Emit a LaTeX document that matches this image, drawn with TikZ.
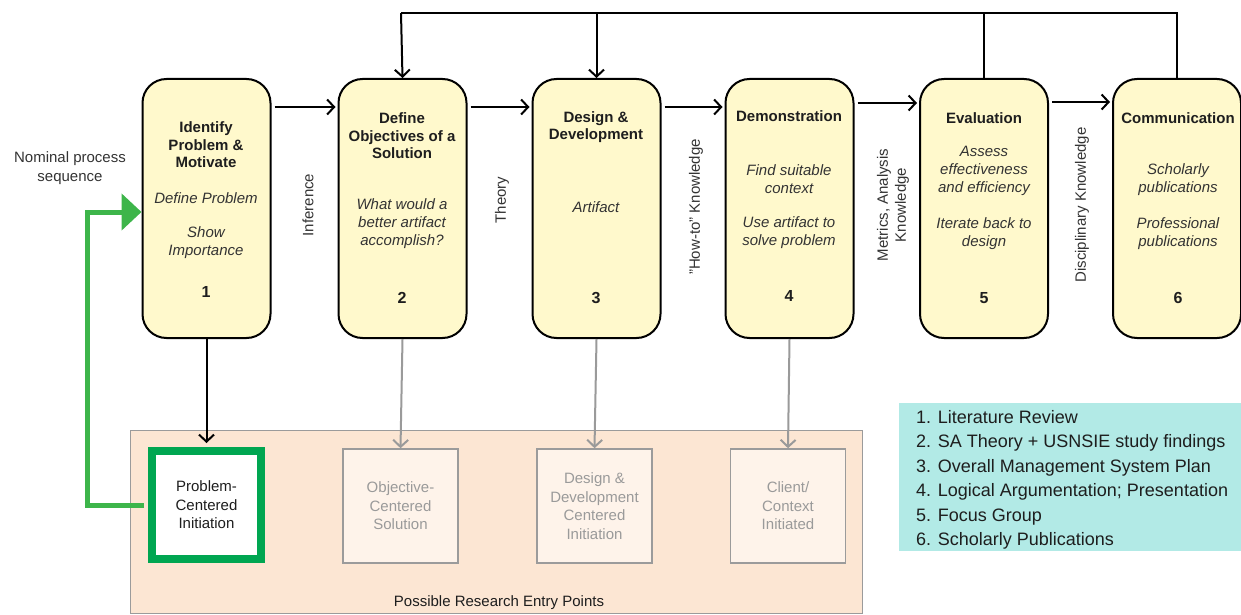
\documentclass[tikz,border=0pt]{standalone}
\usepackage{fontspec}
\setmainfont{Liberation Sans}
\usetikzlibrary{arrows.meta}
\definecolor{boxfill}{HTML}{FFF9CC}
\definecolor{entrybg}{HTML}{FCE6D3}
\definecolor{entryfill}{HTML}{FEF3EA}
\definecolor{entryline}{HTML}{9B9B9B}
\definecolor{legendbg}{HTML}{B2EAE6}
\definecolor{gbox}{HTML}{00A651}
\definecolor{garrow}{HTML}{3DB54A}
\definecolor{txt}{HTML}{1E1E1E}
\definecolor{txttwo}{HTML}{333333}
\definecolor{graytxt}{HTML}{9A9A9A}
\definecolor{grayarr}{HTML}{9A9A9A}
\tikzset{
  stage/.style={draw=black, line width=2pt, fill=boxfill, rounded corners=24pt,
    minimum width=128pt, minimum height=259pt, inner sep=0pt},
  ttl/.style={font=\fontsize{15}{17.5}\selectfont\bfseries, text=txt, align=center, inner sep=0pt},
  itl/.style={font=\fontsize{15}{18}\selectfont\itshape, text=txttwo, align=center, inner sep=0pt},
  num/.style={font=\fontsize{16}{18}\selectfont\bfseries, text=txt, inner sep=0pt},
  rlab/.style={font=\fontsize{15}{18}\selectfont, text=txttwo, rotate=90, align=center, inner sep=0pt},
  flow/.style={draw=black, line width=2pt, -{Straight Barb[length=7pt,width=15pt]}},
  fbline/.style={draw=black, line width=2pt},
  grayflow/.style={draw=grayarr, line width=2pt, -{Straight Barb[length=7pt,width=15pt]}},
  entry/.style={draw=entryline, line width=1.6pt, fill=entryfill, minimum width=115pt,
    minimum height=114pt, inner sep=0pt, text=graytxt, align=center,
    font=\fontsize{15}{18.5}\selectfont},
  greenbox/.style={entry, draw=gbox, line width=8pt, fill=white, text=txt,
    minimum width=109pt, minimum height=108pt},
  greenflow/.style={draw=garrow, line width=5pt, -{Triangle[length=20pt,width=36pt]}},
  legline/.style={anchor=base west, inner sep=0pt, font=\fontsize{18}{24}\selectfont, text=txt},
}
\begin{document}
\begin{tikzpicture}[x=1pt,y=-1pt]
\useasboundingbox (0,0) rectangle (1241,615);

% bottom area
\node[draw=entryline, line width=1pt, fill=entrybg, minimum width=732pt, minimum height=183pt, inner sep=0pt] (area) at (496,521.5) {};
\node[font=\fontsize{15}{18}\selectfont, text=txt, inner sep=0pt] (arealab) at (499,603) {Possible Research Entry Points};

% legend
\node[fill=legendbg, minimum width=342pt, minimum height=148pt, inner sep=0pt] (legend) at (1070,477) {};
\node[legline] (l1) at (916,423.5) {1. Literature Review};
\node[legline] (l2) at (916,447.9) {2. SA Theory + USNSIE study findings};
\node[legline] (l3) at (916,472.3) {3. Overall Management System Plan};
\node[legline] (l4) at (916,496.7) {4. Logical Argumentation; Presentation};
\node[legline] (l5) at (916,521.1) {5. Focus Group};
\node[legline] (l6) at (916,545.5) {6. Scholarly Publications};

% stage boxes
\node[stage] (b1) at (206.5,208.5) {};
\node[stage] (b2) at (402.5,208.5) {};
\node[stage] (b3) at (596.5,208.5) {};
\node[stage] (b4) at (789.5,208.5) {};
\node[stage] (b5) at (984,208.5) {};
\node[stage] (b6) at (1177,208.5) {};

% box texts
\node[ttl] (t1) at (206,145) {Identify\\Problem \&\\Motivate};
\node[itl] (i1a) at (206,198) {Define Problem};
\node[itl] (i1b) at (206,243) {Show\\Importance};
\node[num] (n1) at (206,292) {1};

\node[ttl] (t2) at (402,136) {Define\\Objectives of a\\Solution};
\node[itl] (i2a) at (402,224) {What would a\\better artifact\\accomplish?};
\node[num] (n2) at (402,298) {2};

\node[ttl] (t3) at (596,127) {Design \&\\Development};
\node[itl] (i3a) at (596,207) {Artifact};
\node[num] (n3) at (596,298) {3};

\node[ttl] (t4) at (789,116) {Demonstration};
\node[itl] (i4a) at (789,179) {Find suitable\\context};
\node[itl] (i4b) at (789,233) {Use artifact to\\solve problem};
\node[num] (n4) at (789,296) {4};

\node[ttl] (t5) at (984,118) {Evaluation};
\node[itl] (i5a) at (984,171) {Assess\\effectiveness\\and efficiency};
\node[itl] (i5b) at (984,234) {Iterate back to\\design};
\node[num] (n5) at (984,298) {5};

\node[ttl] (t6) at (1178,118) {Communication};
\node[itl] (i6a) at (1178,180) {Scholarly\\publications};
\node[itl] (i6b) at (1178,234) {Professional\\publications};
\node[num] (n6) at (1178,298) {6};

% rotated labels
\node[rlab] (r1) at (308,205) {Inference};
\node[rlab] (r2) at (502,200) {Theory};
\node[rlab] (r3) at (696,207) {"How-to" Knowledge};
\node[rlab] (r4) at (893,205) {Metrics, Analysis\\Knowledge};
\node[rlab] (r5) at (1082,205) {Disciplinary Knowledge};

\node[font=\fontsize{15}{19}\selectfont, text=txttwo, align=center, inner sep=0pt] (nom) at (70,168.5) {Nominal process\\sequence};

% horizontal flow
\draw[flow, shorten <=3pt, shorten >=2pt] ([yshift=-29pt]b1.north east) -- ([yshift=-29pt]b2.north west);
\draw[flow, shorten <=3pt, shorten >=2pt] ([yshift=-29pt]b2.north east) -- ([yshift=-29pt]b3.north west);
\draw[flow, shorten <=3pt, shorten >=2pt] ([yshift=-29pt]b3.north east) -- ([yshift=-29pt]b4.north west);
\draw[flow, shorten <=3pt, shorten >=2pt] ([yshift=-25pt]b4.north east) -- ([yshift=-25pt]b5.north west);
\draw[flow, shorten <=3pt, shorten >=2pt] ([yshift=-24pt]b5.north east) -- ([yshift=-24pt]b6.north west);

% feedback
\coordinate (fb) at (401,13);
\draw[fbline] (b6.north) |- (fb);
\draw[fbline] (b5.north) -- (b5.north |- fb);
\draw[flow] (fb) -- (b2.north);
\draw[flow] (b3.north |- fb) -- (b3.north);

% entry boxes
\node[greenbox] (eA) at (206.5,505) {Problem-\\Centered\\Initiation};
\node[entry] (eB) at (400.5,506) {Objective-\\Centered\\Solution};
\node[entry] (eC) at (594.5,506) {Design \&\\Development\\Centered\\Initiation};
\node[entry] (eD) at (788,506) {Client/\\Context\\Initiated};

% down arrows
\draw[flow] (b1.south) -- ([yshift=4pt]eA.north);
\draw[grayflow] (b2.south |- b1.south) -- (eB.north);
\draw[grayflow] (b3.south) -- (eC.north);
\draw[grayflow] (b4.south) -- (eD.north);

% green entry arrow
\coordinate (gc) at (87,212);
\draw[greenflow] ([xshift=-4pt]eA.west) -| (gc) -- ([yshift=-3.5pt]b1.west);
\end{tikzpicture}
\end{document}
